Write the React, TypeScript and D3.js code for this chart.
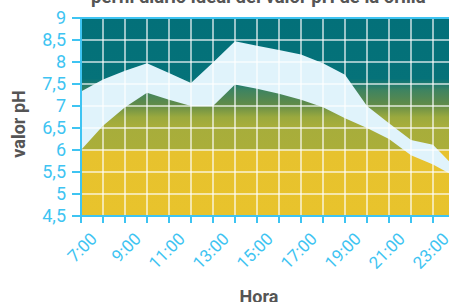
import React from 'react'
import * as d3 from 'd3'

// hourly pH band (ideal daily profile)
const hours = [7, 8, 9, 10, 11, 12, 13, 14, 15, 16, 17, 18, 19, 20, 21, 22, 23, 24]
const upperPH = [7.33, 7.6, 7.8, 7.97, 7.75, 7.52, 7.99, 8.47, 8.37, 8.27, 8.17, 7.97, 7.71, 7.0, 6.61, 6.23, 6.12, 5.6]
const lowerPH = [6.0, 6.55, 6.97, 7.3, 7.14, 7.0, 7.0, 7.49, 7.39, 7.28, 7.14, 6.97, 6.72, 6.5, 6.25, 5.88, 5.67, 5.4]
const yTicks = [4.5, 5, 5.5, 6, 6.5, 7, 7.5, 8, 8.5, 9]
const xLabelHours = [7, 9, 11, 13, 15, 17, 19, 21, 23]

const title = 'perfil diario ideal del valor pH de la orilla'
const blue = '#3ec4f2'
const gray = '#555'

export default function App() {
	const x = d3.scaleLinear().domain([7, 24]).range([81, 455])
	const y = d3.scaleLinear().domain([4.5, 9]).range([216, 18])

	const rows = hours.map((h, i) => ({ h, lo: lowerPH[i], hi: upperPH[i] }))
	const band = d3.area<any>()
		.x(d => x(d.h))
		.y0(d => y(d.lo))
		.y1(d => y(d.hi))(rows)

	const off = (v: number) => ((9 - v) / 4.5 * 100) + '%'
	const stops: [number, string][] = [
		[9, '#037079'], [7.62, '#057279'], [7.35, '#3f8460'], [7.05, '#5e8a4a'],
		[6.75, '#9aa93e'], [6.55, '#a7ad3b'], [6.03, '#aaae3a'], [5.98, '#e7c22e'], [4.5, '#e8c32c']
	]
	const allHours = d3.range(7, 25)
	const fmt = (v: number) => String(v).replace('.', ',')

	return (
		<svg width={449} height={302} style={{ position: 'absolute', left: 0, top: 0 }}
			fontFamily="Roboto, sans-serif">
			<defs>
				<linearGradient id="bg" gradientUnits="userSpaceOnUse" x1={0} x2={0} y1={y(9)} y2={y(4.5)}>
					{stops.map(([v, c], i) => <stop key={i} offset={off(v)} stopColor={c} />)}
				</linearGradient>
			</defs>
			<text x={91} y={3} fontSize={18.5} fontWeight="bold" fill={gray}>{title}</text>
			<rect x={x(7)} y={y(9)} width={x(24) - x(7)} height={y(4.5) - y(9)} fill="url(#bg)" />
			<path d={band || ''} fill="#e0f3fb" />
			{yTicks.map(v => (
				<line key={'gy' + v} x1={x(7)} x2={x(24)} y1={y(v)} y2={y(v)} stroke="#fff" strokeWidth={1.5} opacity={0.8} />
			))}
			{allHours.map(h => (
				<line key={'gx' + h} x1={x(h)} x2={x(h)} y1={y(9)} y2={y(4.5)} stroke="#fff" strokeWidth={1.5} opacity={0.8} />
			))}
			<line x1={x(7)} x2={x(24)} y1={y(9)} y2={y(9)} stroke={blue} strokeWidth={2} />
			<line x1={x(7)} x2={x(7)} y1={y(9) - 1} y2={y(4.5) + 1} stroke={blue} strokeWidth={2} />
			<line x1={x(7) - 1} x2={x(24)} y1={y(4.5)} y2={y(4.5)} stroke={blue} strokeWidth={2} />
			{yTicks.map(v => (
				<g key={'yt' + v}>
					<line x1={72} x2={x(7)} y1={y(v)} y2={y(v)} stroke={blue} strokeWidth={2} />
					<text x={66} y={y(v)} dy="0.36em" textAnchor="end" fontSize={18} fill={blue}>{fmt(v)}</text>
				</g>
			))}
			{allHours.map(h => (
				<line key={'xt' + h} x1={x(h)} x2={x(h)} y1={y(4.5)} y2={y(4.5) + 7} stroke={blue} strokeWidth={2} />
			))}
			{xLabelHours.map(h => (
				<text key={'xl' + h} transform={`translate(${x(h) + 17},${240}) rotate(-45)`}
					textAnchor="end" fontSize={17} fill={blue}>{h + ':00'}</text>
			))}
			<text transform="translate(25,124) rotate(-90)" textAnchor="middle" fontSize={18} fontWeight="bold" fill={gray}>valor pH</text>
			<text x={259} y={303} textAnchor="middle" fontSize={18} fontWeight="bold" fill={gray}>Hora</text>
		</svg>
	)
}
